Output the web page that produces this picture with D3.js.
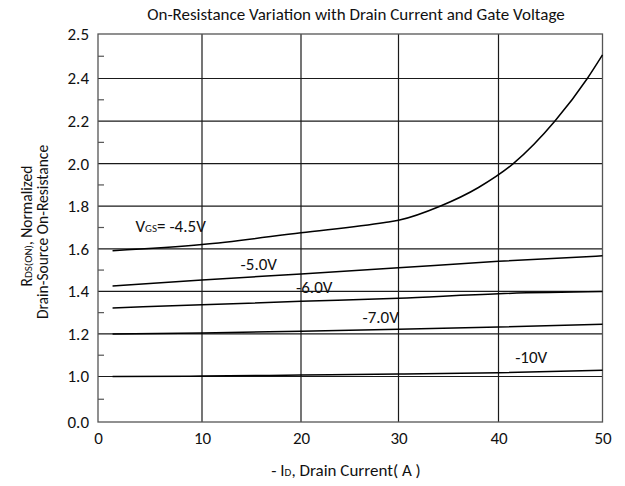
<!DOCTYPE html>
<html>
<head>
<meta charset="utf-8">
<script src="https://cdn.jsdelivr.net/npm/d3@7"></script>
<style>
  body { margin: 0; background: #fff; }
  svg { display: block; }
  text { font-family: Carlito, "Liberation Sans Narrow", "Open Sans", sans-serif; fill: #111; }
</style>
</head>
<body>
<svg id="chart" width="625" height="486"></svg>
<script>
// ---- data ----
const xTicks = [0, 10, 20, 30, 40, 50];
const yTickLabels = ["0.0", "1.0", "1.2", "1.4", "1.6", "1.8", "2.0", "2.2", "2.4", "2.5"];
const yTickValues = [0.0, 1.0, 1.2, 1.4, 1.6, 1.8, 2.0, 2.2, 2.4, 2.5];

const vgs45_x = [1.4, 10, 20, 28.6, 30, 34.15, 38, 41.42, 45.43, 48.54, 50];
const vgs45_y = [1.591, 1.62, 1.675, 1.723, 1.734, 1.80, 1.888, 2.0, 2.2, 2.4, 2.453];
const vgs50_x = [1.4, 10, 20, 30, 40, 50];
const vgs50_y = [1.425, 1.453, 1.482, 1.511, 1.541, 1.567];
const vgs60_x = [1.4, 10, 20, 30, 40, 50];
const vgs60_y = [1.322, 1.337, 1.353, 1.368, 1.389, 1.399];
const vgs70_x = [1.4, 10, 20, 30, 40, 50];
const vgs70_y = [1.20, 1.204, 1.213, 1.222, 1.232, 1.245];
const vgs10_x = [1.4, 10, 20, 30, 40, 50];
const vgs10_y = [1.0, 1.002, 1.007, 1.012, 1.018, 1.029];

const seriesLabels = ["V_GS= -4.5V", "-5.0V", "-6.0V", "-7.0V", "-10V"];
const labelAt = [[3.6, 1.678], [13.9, 1.50], [19.5, 1.391], [26.3, 1.25], [41.6, 1.065]];

const title = "On-Resistance Variation with Drain Current and Gate Voltage";

// ---- layout ----
const svg = d3.select("#chart");
const L = 98, R = 602.5, T = 34, B = 422;
const yOne = 376.5, y24 = 78.5; // positions of the 1.0 and 2.4 ticks
const step = (yOne - y24) / 7;
const yRange = [B].concat(d3.range(8).map(i => yOne - i * step)).concat([T]);
const xRange = [L, 202, 301, 398.5, 498.5, R];

const x = d3.scaleLinear().domain(xTicks).range(xRange);
const y = d3.scaleLinear().domain(yTickValues).range(yRange);

// gridlines
const g = svg.append("g");
g.selectAll(".hg").data(yTickValues.slice(1, -1)).enter().append("line")
  .attr("x1", L).attr("x2", R)
  .attr("y1", d => y(d)).attr("y2", d => y(d))
  .attr("stroke", "#1a1a1a").attr("stroke-width", 1.2);
g.selectAll(".vg").data(xTicks.slice(1, -1)).enter().append("line")
  .attr("y1", T).attr("y2", B)
  .attr("x1", d => x(d)).attr("x2", d => x(d))
  .attr("stroke", "#1a1a1a").attr("stroke-width", 1.2);

// minor ticks on left axis (midpoints)
const mids = d3.range(yRange.length - 1).map(i => (yRange[i] + yRange[i + 1]) / 2);
g.selectAll(".mt").data(mids).enter().append("line")
  .attr("x1", L).attr("x2", L + 6)
  .attr("y1", d => d).attr("y2", d => d)
  .attr("stroke", "#555").attr("stroke-width", 1.2);

// frame
g.append("rect").attr("x", L).attr("y", T).attr("width", R - L).attr("height", B - T)
  .attr("fill", "none").attr("stroke", "#555").attr("stroke-width", 1.3);

// axes labels via d3 axes
const xAxis = d3.axisBottom(x).tickValues(xTicks).tickSize(0).tickPadding(10).tickFormat(d3.format("d"));
const xg = svg.append("g").attr("transform", `translate(0,${B})`).call(xAxis);
xg.select(".domain").remove();
xg.selectAll("text").attr("font-size", 17).attr("font-family", null);

const yAxis = d3.axisLeft(y).tickValues(yTickValues).tickSize(0).tickPadding(9)
  .tickFormat((d, i) => yTickLabels[i]);
const yg = svg.append("g").attr("transform", `translate(${L},0)`).call(yAxis);
yg.select(".domain").remove();
yg.selectAll("text").attr("font-size", 17).attr("font-family", null);

// curves
const series = [
  [vgs45_x, vgs45_y], [vgs50_x, vgs50_y], [vgs60_x, vgs60_y], [vgs70_x, vgs70_y], [vgs10_x, vgs10_y]
];
const line = d3.line().x(d => x(d[0])).y(d => y(d[1])).curve(d3.curveMonotoneX);
series.forEach(([xs, ys]) => {
  svg.append("path").datum(xs.map((v, i) => [v, ys[i]]))
    .attr("d", line).attr("fill", "none").attr("stroke", "#000").attr("stroke-width", 1.5);
});

// series labels
seriesLabels.forEach((lab, i) => {
  const t = svg.append("text").attr("x", x(labelAt[i][0])).attr("y", y(labelAt[i][1]))
    .attr("font-size", 17);
  if (lab.startsWith("V_GS")) {
    t.append("tspan").text("V");
    t.append("tspan").attr("font-size", 11).text("GS");
    t.append("tspan").text(lab.slice(4));
  } else {
    t.text(lab);
  }
});

// title
svg.append("text").attr("x", 356).attr("y", 20).attr("text-anchor", "middle")
  .attr("font-size", 17).text(title);

// x label
const xl = svg.append("text").attr("x", 346).attr("y", 476).attr("text-anchor", "middle")
  .attr("font-size", 17);
xl.append("tspan").text("- I");
xl.append("tspan").attr("font-size", 11).text("D");
xl.append("tspan").text(", Drain Current( A )");

// y label (two lines, rotated)
const cy = (T + B) / 2;
const yl1 = svg.append("text").attr("transform", `translate(32,${cy - 2}) rotate(-90)`)
  .attr("text-anchor", "middle").attr("font-size", 15.5);
yl1.append("tspan").text("R");
yl1.append("tspan").attr("font-size", 11).text("DS(ON)");
yl1.append("tspan").text(", Normalized");
svg.append("text").attr("transform", `translate(48,${cy + 4}) rotate(-90)`)
  .attr("text-anchor", "middle").attr("font-size", 15.5).text("Drain-Source On-Resistance");
</script>
</body>
</html>
